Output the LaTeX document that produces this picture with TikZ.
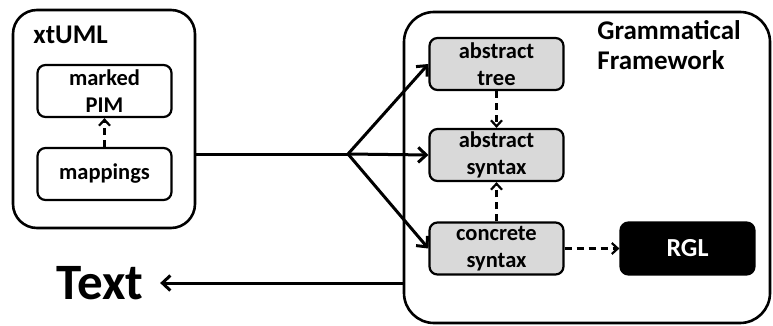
\documentclass[tikz,border=0pt]{standalone}
\usepackage{fontspec}
\setmainfont{Carlito}
\usetikzlibrary{arrows.meta,positioning}
\begin{document}
\begin{tikzpicture}[x=1pt,y=1pt,node distance=83pt,>={Straight Barb[length=8pt,width=15pt]},thick]
        \tikzstyle{frame} = [rectangle, draw, line width=2.6pt, rounded corners=24pt]
        \tikzstyle{block} = [rectangle, draw, line width=2.2pt, fill=white, rounded corners=8pt, minimum height=52pt, minimum width=134pt, inner sep=0pt, align=center, font=\fontsize{22.5}{27}\selectfont\bfseries]
        \tikzstyle{gblock} = [block, fill=gray!30]
        \tikzstyle{title} = [font=\fontsize{27}{30}\selectfont\bfseries, inner sep=0pt]
        \tikzstyle{arrow} = [->, line width=3pt]
        \tikzstyle{dasharrow} = [-{Straight Barb[length=6pt,width=11pt]}, line width=2.2pt, dash pattern=on 7pt off 5pt]

        \useasboundingbox (0,0) rectangle (773,325);

        % Containers
        \node[frame, minimum width=182pt, minimum height=218pt] (xtuml) at (104,206) {};
        \node[frame, minimum width=366pt, minimum height=311pt, rounded corners=30pt] (gf) at (587,157.5) {};
        \node[title, anchor=west] (xtlabel) at (33,290) {xtUML};
        \node[title, anchor=north west, align=left] (gflabel) at (597,305) {Grammatical\\Framework};

        % Nodes
        \node[block] (pim) at (104.5,234) {marked\\PIM};
        \node[block, below of=pim] (map) {mappings};
        \node[gblock] (tree) at (496.5,261) {abstract\\tree};
        \node[gblock, below of=tree, node distance=91pt] (asyn) {abstract\\syntax};
        \node[gblock, below of=asyn, node distance=93.5pt] (csyn) {concrete\\syntax};
        \node[block, fill=black, text=white, right of=csyn, node distance=191pt, font=\fontsize{26}{30}\selectfont\bfseries] (rgl) {RGL};

        % Output text
        \node[font=\fontsize{51}{56}\selectfont\bfseries] (text) at (100,42) {Text};

        % Branching arrows
        \coordinate (branch) at (348,171);
        \draw[line width=3pt] (xtuml.east |- branch) -- (branch);
        \draw[arrow] (branch) -- (tree.west);
        \draw[arrow] (branch) -- (asyn.west);
        \draw[arrow] (branch) -- (csyn.west);

        % Dashed arrows
        \draw[dasharrow] (map) -- (pim);
        \draw[dasharrow] (tree) -- (asyn);
        \draw[dasharrow] (csyn) -- (asyn);
        \draw[dasharrow] (csyn) -- (rgl);

        % Back to text
        \draw[arrow, shorten >=13pt] (gf.west |- text) -- (text);
    \end{tikzpicture}
\end{document}
